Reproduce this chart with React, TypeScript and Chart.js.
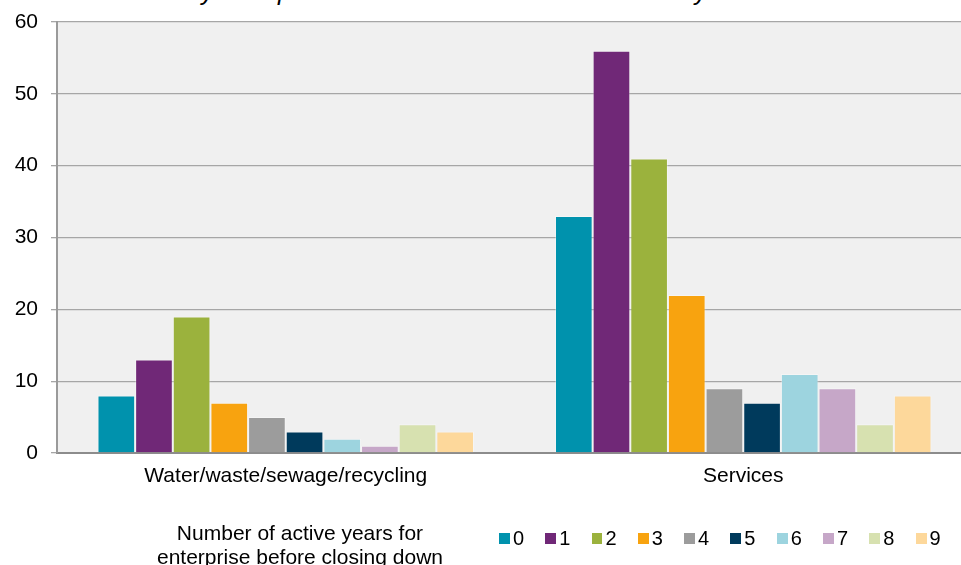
import React, { useEffect, useRef } from "react";
import { Chart, registerables } from "chart.js";

Chart.register(...registerables);

const categories = ["Water/waste/sewage/recycling", "Services"];
const seriesLabels = ["0", "1", "2", "3", "4", "5", "6", "7", "8", "9"];
const years0 = [8, 33];
const years1 = [13, 56];
const years2 = [19, 41];
const years3 = [7, 22];
const years4 = [5, 9];
const years5 = [3, 7];
const years6 = [2, 11];
const years7 = [1, 9];
const years8 = [4, 4];
const years9 = [3, 8];
const seriesColors = [
  "#0092ad",
  "#702877",
  "#9bb23d",
  "#f8a30f",
  "#9c9c9c",
  "#003a5c",
  "#9dd4df",
  "#c6a7c8",
  "#d7e1b0",
  "#fdd89b",
];
const yTicks = [0, 10, 20, 30, 40, 50, 60];
const titleText = "Chart 8: How many enterprises that were closed down in each year";
const axisTitleLines = ["Number of active years for", "enterprise before closing down"];

const FONT = "'Liberation Sans', Arial, sans-serif";

const plotBg = {
  id: "plotBg",
  beforeDraw(chart: any) {
    const { ctx, chartArea } = chart;
    if (!chartArea) return;
    ctx.save();
    ctx.fillStyle = "#f0f0f0";
    ctx.fillRect(chartArea.left, chartArea.top, chartArea.right - chartArea.left, chartArea.bottom - chartArea.top);
    ctx.restore();
  },
};

export default function App() {
  const ref = useRef<HTMLCanvasElement | null>(null);

  useEffect(() => {
    document.body.style.overflow = "hidden";
    const values = [years0, years1, years2, years3, years4, years5, years6, years7, years8, years9];
    const chart = new Chart(ref.current as HTMLCanvasElement, {
      type: "bar",
      data: {
        labels: categories,
        datasets: seriesLabels.map((l, i) => ({
          label: l,
          data: values[i],
          backgroundColor: seriesColors[i],
          borderColor: "rgba(255,255,255,0.35)",
          borderWidth: 1,
          categoryPercentage: 0.823,
          barPercentage: 1,
        })),
      },
      options: {
        animation: false,
        responsive: true,
        maintainAspectRatio: false,
        layout: { padding: { left: 0, right: 3, top: 22, bottom: 0 } },
        plugins: {
          title: { display: false },
          tooltip: { enabled: false },
          legend: { display: false },
        },
        scales: {
          x: {
            grid: { display: false, drawTicks: false },
            border: { display: true, color: "#8c8c8c", width: 2 },
            ticks: { color: "#000", font: { family: FONT, size: 21 }, padding: 11 },
            afterFit: (s: any) => {
              s.height = 112;
            },
          },
          y: {
            min: 0,
            max: 60,
            afterBuildTicks: (s: any) => {
              s.ticks = yTicks.map((v) => ({ value: v }));
            },
            grid: { color: "#a6a6a6", lineWidth: 1.3, tickLength: 6, drawTicks: true },
            border: { display: true, color: "#9a9a9a", width: 2 },
            ticks: { color: "#000", font: { family: FONT, size: 21, lineHeight: 1 }, padding: 13 },
            afterFit: (s: any) => {
              s.width = 57;
              s.paddingTop = 0;
              s.paddingBottom = 0;
            },
          },
        },
      },
      plugins: [plotBg],
    });
    return () => chart.destroy();
  }, []);

  return (
    <div style={{ position: "fixed", left: 0, top: 0, width: 975, height: 565, background: "#fff", overflow: "hidden" }}>
      <div
        style={{
          position: "absolute",
          left: 0,
          top: -21,
          width: 718,
          textAlign: "right",
          whiteSpace: "nowrap",
          fontFamily: FONT,
          fontStyle: "italic",
          fontSize: 25,
          lineHeight: "25px",
          color: "#000",
        }}
      >
        {titleText}
      </div>
      <canvas ref={ref} style={{ position: "absolute", left: 0, top: 0 }} />
      <div
        style={{
          position: "absolute",
          left: 0,
          top: 521,
          width: 600,
          textAlign: "center",
          fontFamily: FONT,
          fontSize: 21,
          lineHeight: "24px",
          color: "#000",
        }}
      >
        {axisTitleLines.map((t) => (
          <div key={t}>{t}</div>
        ))}
      </div>
      <div
        style={{
          position: "absolute",
          left: 499,
          top: 527,
          display: "flex",
          gap: "21.3px",
          fontFamily: FONT,
          fontSize: 20,
          lineHeight: "23px",
          color: "#000",
        }}
      >
        {seriesLabels.map((l, i) => (
          <div key={l} style={{ display: "flex", alignItems: "center", width: 25 }}>
            <span
              style={{ display: "inline-block", width: 11, height: 11, background: seriesColors[i], marginRight: 3 }}
            />
            <span>{l}</span>
          </div>
        ))}
      </div>
    </div>
  );
}
